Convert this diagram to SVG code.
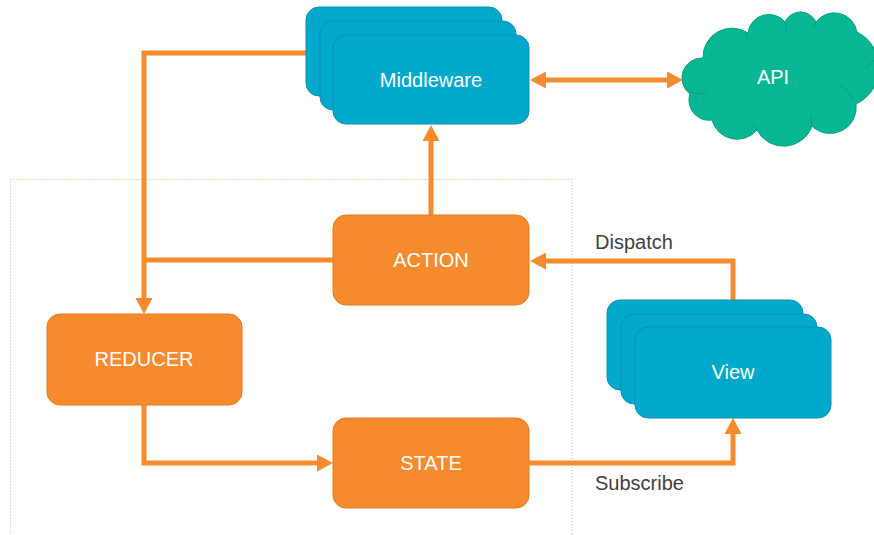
<svg xmlns="http://www.w3.org/2000/svg" width="874" height="535" viewBox="0 0 874 535">
  <defs>
    <style>
      .blue { fill: #00A9CC; stroke: #0E8FAE; stroke-width: 1; }
      .orange { fill: #F68B2D; stroke: #E27B22; stroke-width: 1; }
      .cloud { fill: #07B794; stroke: #0A9E80; stroke-width: 1; }
      .cloudin { fill: none; stroke: #0A9E80; stroke-width: 1; }
      .lbl { font-family: "Liberation Sans", Arial, sans-serif; font-size: 20px; fill: #FFFFFF; text-anchor: middle; }
      .edge-lbl { font-family: "Liberation Sans", Arial, sans-serif; font-size: 20px; fill: #404040; }
      .conn { fill: none; stroke: #F68B2D; stroke-width: 5; stroke-linejoin: miter; stroke-linecap: butt; }
      .frame { fill: none; stroke: #E2AE7E; stroke-width: 1; stroke-dasharray: 1 2; }
    </style>
    <marker id="arrow" markerUnits="userSpaceOnUse" markerWidth="16" markerHeight="17" refX="2" refY="8.5" orient="auto-start-reverse" viewBox="0 0 16 17">
      <path d="M0,0 L16,8.5 L0,17 Z" fill="#F68B2D"/>
    </marker>
  </defs>

  <rect width="874" height="535" fill="#FFFFFF"/>

  <rect class="frame" x="10.5" y="179.5" width="561.5" height="400"/>

  <g id="connectors">
    <path class="conn" d="M306,53 H144 V300" marker-end="url(#arrow)"/>
    <path class="conn" d="M333,260 H144"/>
    <path class="conn" d="M144,405 V463 H319" marker-end="url(#arrow)"/>
    <path class="conn" d="M431,215 V139" marker-end="url(#arrow)"/>
    <path class="conn" d="M733,300 V261 H544" marker-end="url(#arrow)"/>
    <path class="conn" d="M529,463 H733 V432" marker-end="url(#arrow)"/>
    <path class="conn" d="M544,80 H669" marker-start="url(#arrow)" marker-end="url(#arrow)"/>
  </g>

  <g id="middleware">
    <rect class="blue" x="306" y="7" width="196" height="89" rx="13"/>
    <rect class="blue" x="320" y="21" width="196" height="89" rx="13"/>
    <rect class="blue" x="333" y="35" width="196" height="89" rx="13"/>
    <text class="lbl" x="431" y="87">Middleware</text>
  </g>

  <g id="api">
    <path class="cloud" d="M690,94 A20,20 0 0 1 703,58 A29,29 0 0 1 748,33 A21,21 0 0 1 785,22 A17,17 0 0 1 816,22 A23,23 0 0 1 857,32 A40,40 0 0 1 856,104 A26,26 0 0 1 812,126 A30,30 0 0 1 757,130 A26,26 0 0 1 712,120 A20,20 0 0 1 690,94 Z"/>
    <path class="cloudin" d="M690,92 Q699,95 707,93"/>
    <path class="cloudin" d="M838,84 Q850,90 853,101"/>
    <path class="cloudin" d="M866,69 Q870,64 874,60"/>
    <path class="cloudin" d="M753,124 Q756,128 757,130"/>
    <path class="cloudin" d="M810,116 Q812,121 812,126"/>
    <path class="cloudin" d="M745,33 Q747,36 748,39"/>
    <path class="cloudin" d="M785,22 Q787,26 786,30"/>
    <path class="cloudin" d="M816,22 Q815,25 813,28"/>
    <text class="lbl" x="773" y="84">API</text>
  </g>

  <g id="action">
    <rect class="orange" x="333" y="215" width="196" height="90" rx="13"/>
    <text class="lbl" x="431" y="267">ACTION</text>
  </g>

  <g id="reducer">
    <rect class="orange" x="47" y="314" width="195" height="91" rx="13"/>
    <text class="lbl" x="144" y="366">REDUCER</text>
  </g>

  <g id="state">
    <rect class="orange" x="333" y="418" width="196" height="90" rx="13"/>
    <text class="lbl" x="431" y="470">STATE</text>
  </g>

  <g id="view">
    <rect class="blue" x="607" y="300" width="196" height="90" rx="13"/>
    <rect class="blue" x="621" y="314" width="196" height="90" rx="13"/>
    <rect class="blue" x="635" y="327" width="196" height="91" rx="13"/>
    <text class="lbl" x="733" y="379">View</text>
  </g>

  <g id="edge-labels">
    <text class="edge-lbl" x="595" y="249">Dispatch</text>
    <text class="edge-lbl" x="595" y="490">Subscribe</text>
  </g>
</svg>
